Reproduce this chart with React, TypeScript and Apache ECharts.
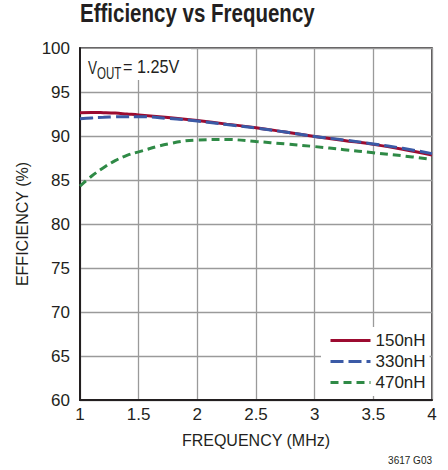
import React, { useEffect, useRef } from "react";
import * as echarts from "echarts";

const FONT = '"Liberation Sans", Arial, sans-serif';

const freq = [1, 1.1, 1.2, 1.3, 1.4, 1.5, 1.75, 2, 2.25, 2.5, 2.75, 3, 3.25, 3.5, 3.75, 4];
const eff150 = [92.65, 92.68, 92.65, 92.6, 92.5, 92.4, 92.1, 91.75, 91.35, 90.95, 90.45, 89.95, 89.5, 89.05, 88.5, 87.85];
const eff330 = [91.95, 92.05, 92.12, 92.18, 92.2, 92.2, 92.0, 91.7, 91.3, 90.9, 90.45, 89.95, 89.55, 89.1, 88.6, 88.0];
const eff470 = [84.3, 85.45, 86.4, 87.2, 87.8, 88.2, 89.1, 89.55, 89.6, 89.38, 89.1, 88.8, 88.45, 88.1, 87.75, 87.35];

const seriesNames = ["150nH", "330nH", "470nH"];
const seriesColors = ["#9c0b30", "#3b5aa6", "#2f8a46"];
const xTicks = { min: 1, max: 4, interval: 0.5 };
const yTicks = { min: 60, max: 100, interval: 5 };

export default function App() {
  const ref = useRef<HTMLDivElement>(null);
  useEffect(() => {
    document.body.style.margin = "0";
    const chart = echarts.init(ref.current!, null, { renderer: "svg" });
    const toPairs = (ys: number[]) => freq.map((x, i) => [x, ys[i]]);
    const dataSets = [eff150, eff330, eff470];
    const dashes: any[] = ["solid", [13, 5], [8, 5]];
    const txt = (text: string, x: number, y: number, fontSize: number, scaleX: number) => ({
      type: "text",
      z: 101,
      x,
      y,
      scaleX,
      style: { text, fontFamily: FONT, fontSize, fill: "#231f20", verticalAlign: "middle", align: "left" },
    });
    chart.setOption({
      animation: false,
      textStyle: { fontFamily: FONT },
      grid: {
        left: 80,
        right: 16,
        top: 48,
        bottom: 70,
        show: true,
        borderColor: "#231f20",
        borderWidth: 1.5,
      },
      xAxis: {
        type: "value",
        min: xTicks.min,
        max: xTicks.max,
        interval: xTicks.interval,
        name: "FREQUENCY (MHz)",
        nameLocation: "middle",
        nameGap: 32,
        nameTextStyle: { fontFamily: FONT, fontSize: 16, color: "#231f20" },
        axisLine: { show: true, lineStyle: { color: "#231f20", width: 2 } },
        axisTick: { show: false },
        axisLabel: { fontFamily: FONT, fontSize: 17, color: "#231f20", margin: 6 },
        splitLine: { show: true, lineStyle: { color: "#9a9a9a", width: 1.3 } },
      },
      yAxis: {
        type: "value",
        min: yTicks.min,
        max: yTicks.max,
        interval: yTicks.interval,
        name: "EFFICIENCY (%)",
        nameLocation: "middle",
        nameGap: 48,
        nameTextStyle: { fontFamily: FONT, fontSize: 16, color: "#231f20" },
        axisLine: { show: true, lineStyle: { color: "#231f20", width: 2 } },
        axisTick: { show: false },
        axisLabel: { fontFamily: FONT, fontSize: 17, color: "#231f20", margin: 10 },
        splitLine: { show: true, lineStyle: { color: "#9a9a9a", width: 1.3 } },
      },
      legend: {
        orient: "vertical",
        left: 321,
        top: 327,
        padding: [5, 4, 5, 8],
        backgroundColor: "#ffffff",
        itemWidth: 40,
        itemHeight: 12,
        itemGap: 4,
        itemStyle: { opacity: 0 },
        lineStyle: { width: 3 },
        textStyle: { fontFamily: FONT, fontSize: 17, lineHeight: 17, color: "#231f20" },
        data: seriesNames,
      },
      series: seriesNames.map((n, i) => ({
        name: n,
        type: "line",
        data: toPairs(dataSets[i]),
        smooth: 0.4,
        symbol: "none",
        color: seriesColors[i],
        lineStyle: { color: seriesColors[i], width: 3, type: dashes[i] },
        z: 3 + i,
      })),
      graphic: [
        {
          type: "text",
          z: 101,
          x: 80,
          y: 1,
          scaleX: 0.82,
          style: {
            text: "Efficiency vs Frequency",
            fontFamily: FONT,
            fontSize: 25,
            fontWeight: "bold",
            fill: "#231f20",
            verticalAlign: "top",
          },
        },
        {
          type: "rect",
          z: 100,
          shape: { x: 81, y: 49, width: 110, height: 31 },
          style: { fill: "#ffffff" },
        },
        txt("V", 88, 67.5, 18, 0.75),
        txt("OUT", 97, 73, 16, 0.72),
        txt("= 1.25V", 123, 67.5, 18, 0.9),
        {
          type: "text",
          z: 101,
          right: 16,
          top: 455,
          style: { text: "3617 G03", fontFamily: FONT, fontSize: 10, fill: "#231f20" },
        },
      ],
    });
    return () => chart.dispose();
  }, []);
  return <div ref={ref} style={{ width: 448, height: 470 }} />;
}
